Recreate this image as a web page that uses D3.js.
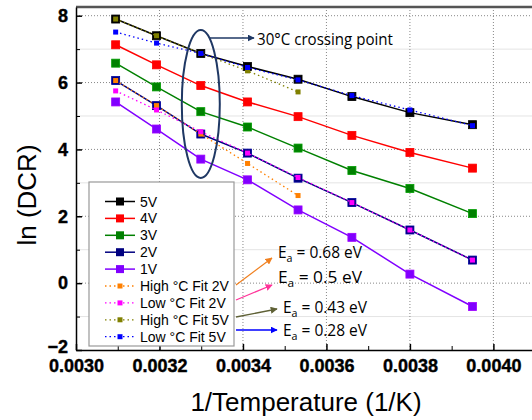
<!DOCTYPE html>
<html>
<head>
<meta charset="utf-8">
<script src="https://cdn.jsdelivr.net/npm/d3@7"></script>
<style>
    body { margin: 0; background: #fff; }
    svg { display: block; font-family: "Liberation Sans", Arial, sans-serif; }
    .tick text { font-weight: 700; }
</style>
</head>
<body>
<svg width="532" height="420"></svg>
<script>
/*
=============
Global
=============
*/

// 1/T for 50, 40, 30, 20, 10, 0, -10, -20 degC
var invTemp = [0.003095, 0.003193, 0.003299, 0.003411, 0.003532, 0.003661, 0.003800, 0.003950];

var v5 = [7.90, 7.40, 6.87, 6.48, 6.10, 5.58, 5.10, 4.74];
var v4 = [7.13, 6.53, 5.91, 5.42, 4.98, 4.42, 3.91, 3.44];
var v3 = [6.58, 5.87, 5.13, 4.67, 4.04, 3.37, 2.83, 2.08];
var v2 = [6.06, 5.31, 4.46, 3.89, 3.14, 2.41, 1.59, 0.69];
var v1 = [5.42, 4.61, 3.71, 3.09, 2.19, 1.37, 0.27, -0.70];

// fits (high fit only covers the 5 warmest points)
var highFit2V = [6.06, 5.31, 4.46, 3.58, 2.62];
var lowFit2V = [5.75, 5.18, 4.53, 3.89, 3.16, 2.41, 1.59, 0.69];
var highFit5V = [7.90, 7.40, 6.87, 6.35, 5.72];
var lowFit5V = [7.51, 7.18, 6.87, 6.45, 6.08, 5.61, 5.18, 4.71];

var xTicks = [0.0030, 0.0032, 0.0034, 0.0036, 0.0038, 0.0040];
var yTicks = [-2, 0, 2, 4, 6, 8];

var eaLabels = ["0.68", "0.5", "0.43", "0.28"];

/*
=============
Document Loaded
=============
*/
window.addEventListener("DOMContentLoaded", function () {
    displayChart();
});

function displayChart() {
    var svg = d3.select("svg");

    var x = d3.scaleLinear().domain([0.0030, 0.00415]).range([76, 556]);
    var y = d3.scaleLinear().domain([-2, 8.26]).range([350, 7]);

    var series = [
        {name: "5V", vals: v5, color: "#000000"},
        {name: "4V", vals: v4, color: "#ff0000"},
        {name: "3V", vals: v3, color: "#008000"},
        {name: "2V", vals: v2, color: "#000080"},
        {name: "1V", vals: v1, color: "#8000ff"}
    ];
    var fits = [
        {name: "High \u00b0C Fit 2V", vals: highFit2V, color: "#ff8000"},
        {name: "Low \u00b0C Fit 2V", vals: lowFit2V, color: "#ff00ff"},
        {name: "High \u00b0C Fit 5V", vals: highFit5V, color: "#808000"},
        {name: "Low \u00b0C Fit 5V", vals: lowFit5V, color: "#0000ff"}
    ];

    // grid: minor solid, major dotted
    var grid = svg.append("g");
    grid.selectAll(".hmin")
        .data([-1, 1, 3, 5, 7])
        .enter().append("line")
        .attr("x1", 76).attr("x2", 532)
        .attr("y1", function(d) { return y(d); })
        .attr("y2", function(d) { return y(d); })
        .attr("stroke", "#e4e4e4").attr("stroke-width", 1);
    grid.selectAll(".hmaj")
        .data([0, 2, 4, 6, 8])
        .enter().append("line")
        .attr("x1", 76).attr("x2", 532)
        .attr("y1", function(d) { return y(d); })
        .attr("y2", function(d) { return y(d); })
        .attr("stroke", "#888").attr("stroke-width", 1)
        .attr("stroke-dasharray", "1,2");
    grid.selectAll(".vmaj")
        .data(xTicks.slice(1))
        .enter().append("line")
        .attr("x1", function(d) { return x(d); })
        .attr("x2", function(d) { return x(d); })
        .attr("y1", 7).attr("y2", 350)
        .attr("stroke", "#888").attr("stroke-width", 1)
        .attr("stroke-dasharray", "1,2");

    // top frame
    svg.append("line")
        .attr("x1", 76).attr("x2", 532)
        .attr("y1", 7).attr("y2", 7)
        .attr("stroke", "#555").attr("stroke-width", 2.5);

    // X axis
    var xAxis = svg.append("g")
        .attr("transform", "translate(0,350)")
        .attr("font-weight", "bold")
        .call(d3.axisBottom(x)
            .tickValues(xTicks)
            .tickFormat(d3.format(".4f"))
            .tickSizeInner(-6).tickSizeOuter(0)
            .tickPadding(9));
    xAxis.select(".domain").attr("stroke-width", 1.5);
    xAxis.selectAll(".tick line").attr("stroke-width", 1.5);
    xAxis.selectAll("text")
        .style("font-size", "18px")
        .style("font-family", "'Liberation Sans', Arial, sans-serif")
        .attr("stroke", "#000").attr("stroke-width", 0.4);

    svg.append("g")
        .attr("transform", "translate(0,350)")
        .call(d3.axisBottom(x)
            .tickValues([0.0031, 0.0033, 0.0035, 0.0037, 0.0039, 0.0041])
            .tickFormat("")
            .tickSizeInner(-4).tickSizeOuter(0))
        .select(".domain").remove();

    // Y axis
    var yAxis = svg.append("g")
        .attr("transform", "translate(76,0)")
        .attr("font-weight", "bold")
        .call(d3.axisLeft(y)
            .tickValues(yTicks)
            .tickSizeInner(-6).tickSizeOuter(0)
            .tickPadding(8));
    yAxis.select(".domain").attr("stroke-width", 1.5);
    yAxis.selectAll(".tick line").attr("stroke-width", 1.5);
    yAxis.selectAll("text")
        .style("font-size", "18px")
        .style("font-family", "'Liberation Sans', Arial, sans-serif")
        .attr("stroke", "#000").attr("stroke-width", 0.4)
        .attr("dy", function(d) { return d === -2 ? "0.12em" : "0.32em"; });

    svg.append("g")
        .attr("transform", "translate(76,0)")
        .call(d3.axisLeft(y)
            .tickValues([-1, 1, 3, 5, 7])
            .tickFormat("")
            .tickSizeInner(-4).tickSizeOuter(0))
        .select(".domain").remove();

    // axis titles
    svg.append("text")
        .attr("x", 306).attr("y", 411)
        .attr("text-anchor", "middle")
        .attr("font-size", 26)
        .text("1/Temperature (1/K)");
    svg.append("text")
        .attr("transform", "translate(36,195)rotate(-90)")
        .attr("text-anchor", "middle")
        .attr("font-size", 26)
        .text("ln (DCR)");

    var line = d3.line()
        .x(function(d) { return x(d[0]); })
        .y(function(d) { return y(d[1]); });

    function pts(vals) {
        return vals.map(function(v, i) { return [invTemp[i], v]; });
    }

    // main series
    series.forEach(function(s) {
        var p = pts(s.vals);
        svg.append("path")
            .datum(p)
            .attr("d", line)
            .attr("fill", "none")
            .attr("stroke", s.color)
            .attr("stroke-width", 1.5);
        svg.selectAll(null)
            .data(p)
            .enter().append("rect")
            .attr("x", function(d) { return x(d[0]) - 4; })
            .attr("y", function(d) { return y(d[1]) - 4; })
            .attr("width", 8).attr("height", 8)
            .attr("fill", s.color)
            .attr("stroke", d3.color(s.color).brighter(0.6))
            .attr("stroke-width", 0.8);
    });

    // fit series
    fits.forEach(function(s) {
        var p = pts(s.vals);
        svg.append("path")
            .datum(p)
            .attr("d", line)
            .attr("fill", "none")
            .attr("stroke", s.color)
            .attr("stroke-width", 1.3)
            .attr("stroke-dasharray", "1.5,3");
        svg.selectAll(null)
            .data(p)
            .enter().append("rect")
            .attr("x", function(d) { return x(d[0]) - 2.5; })
            .attr("y", function(d) { return y(d[1]) - 2.5; })
            .attr("width", 5).attr("height", 5)
            .attr("fill", s.color);
    });

    // ellipse + crossing point label
    svg.append("ellipse")
        .attr("cx", x(invTemp[2])).attr("cy", 104)
        .attr("rx", 19).attr("ry", 74)
        .attr("fill", "none")
        .attr("stroke", "#1f3864").attr("stroke-width", 2);

    var defs = svg.append("defs");
    function marker(id, color) {
        defs.append("marker")
            .attr("id", id)
            .attr("viewBox", "0 0 10 10")
            .attr("refX", 9).attr("refY", 5)
            .attr("markerWidth", 7).attr("markerHeight", 7)
            .attr("markerUnits", "userSpaceOnUse")
            .attr("orient", "auto")
            .append("path")
            .attr("d", "M0,0L10,5L0,10z")
            .attr("fill", color);
        return "url(#" + id + ")";
    }

    svg.append("line")
        .attr("x1", 210).attr("y1", 38).attr("x2", 254).attr("y2", 38)
        .attr("stroke", "#1f3864").attr("stroke-width", 1.5)
        .attr("marker-end", marker("arrNavy", "#1f3864"));
    svg.append("text")
        .attr("x", 257).attr("y", 45)
        .attr("font-family", "'Open Sans', sans-serif")
        .attr("font-size", 17)
        .attr("textLength", 136).attr("lengthAdjust", "spacingAndGlyphs")
        .text("30\u00b0C crossing point");

    // legend
    var lg = svg.append("g");
    lg.append("rect")
        .attr("x", 89).attr("y", 182)
        .attr("width", 145).attr("height", 164)
        .attr("fill", "#fff")
        .attr("stroke", "#999").attr("stroke-width", 1.2);

    var legendItems = series.concat(fits);
    legendItems.forEach(function(s, i) {
        var ly = 201.5 + i * 16.9;
        var isFit = i >= series.length;
        lg.append("line")
            .attr("x1", 105).attr("x2", 135)
            .attr("y1", ly).attr("y2", ly)
            .attr("stroke", s.color)
            .attr("stroke-width", isFit ? 1.3 : 1.5)
            .attr("stroke-dasharray", isFit ? "1.5,3" : null);
        var sz = isFit ? 5 : 8;
        lg.append("rect")
            .attr("x", 120 - sz / 2).attr("y", ly - sz / 2)
            .attr("width", sz).attr("height", sz)
            .attr("fill", s.color);
        lg.append("text")
            .attr("x", 140).attr("y", ly + 5)
            .attr("font-size", 14)
            .text(s.name);
    });

    // activation energy annotations
    var arrows = [
        {x1: 236, y1: 285, x2: 272, y2: 258, color: "#f08020", tx: 278, ty: 258},
        {x1: 236, y1: 300, x2: 272, y2: 285, color: "#ff3399", tx: 278, ty: 283},
        {x1: 236, y1: 317, x2: 277, y2: 309, color: "#5f6136", tx: 283, ty: 313},
        {x1: 236, y1: 330, x2: 277, y2: 330, color: "#0000ff", tx: 283, ty: 336}
    ];
    arrows.forEach(function(a, i) {
        svg.append("line")
            .attr("x1", a.x1).attr("y1", a.y1)
            .attr("x2", a.x2).attr("y2", a.y2)
            .attr("stroke", a.color).attr("stroke-width", 1.3)
            .attr("marker-end", marker("arr" + i, a.color));
        var t = svg.append("text")
            .attr("x", a.tx).attr("y", a.ty)
            .attr("font-family", "'Open Sans', sans-serif")
            .attr("font-size", 16)
            .attr("textLength", 84).attr("lengthAdjust", "spacingAndGlyphs");
        t.append("tspan").text("E");
        t.append("tspan").attr("dy", 4).attr("font-size", 11).text("a");
        t.append("tspan").attr("dy", -4).text(" = " + eaLabels[i] + " eV");
    });
}
</script>
</body>
</html>
